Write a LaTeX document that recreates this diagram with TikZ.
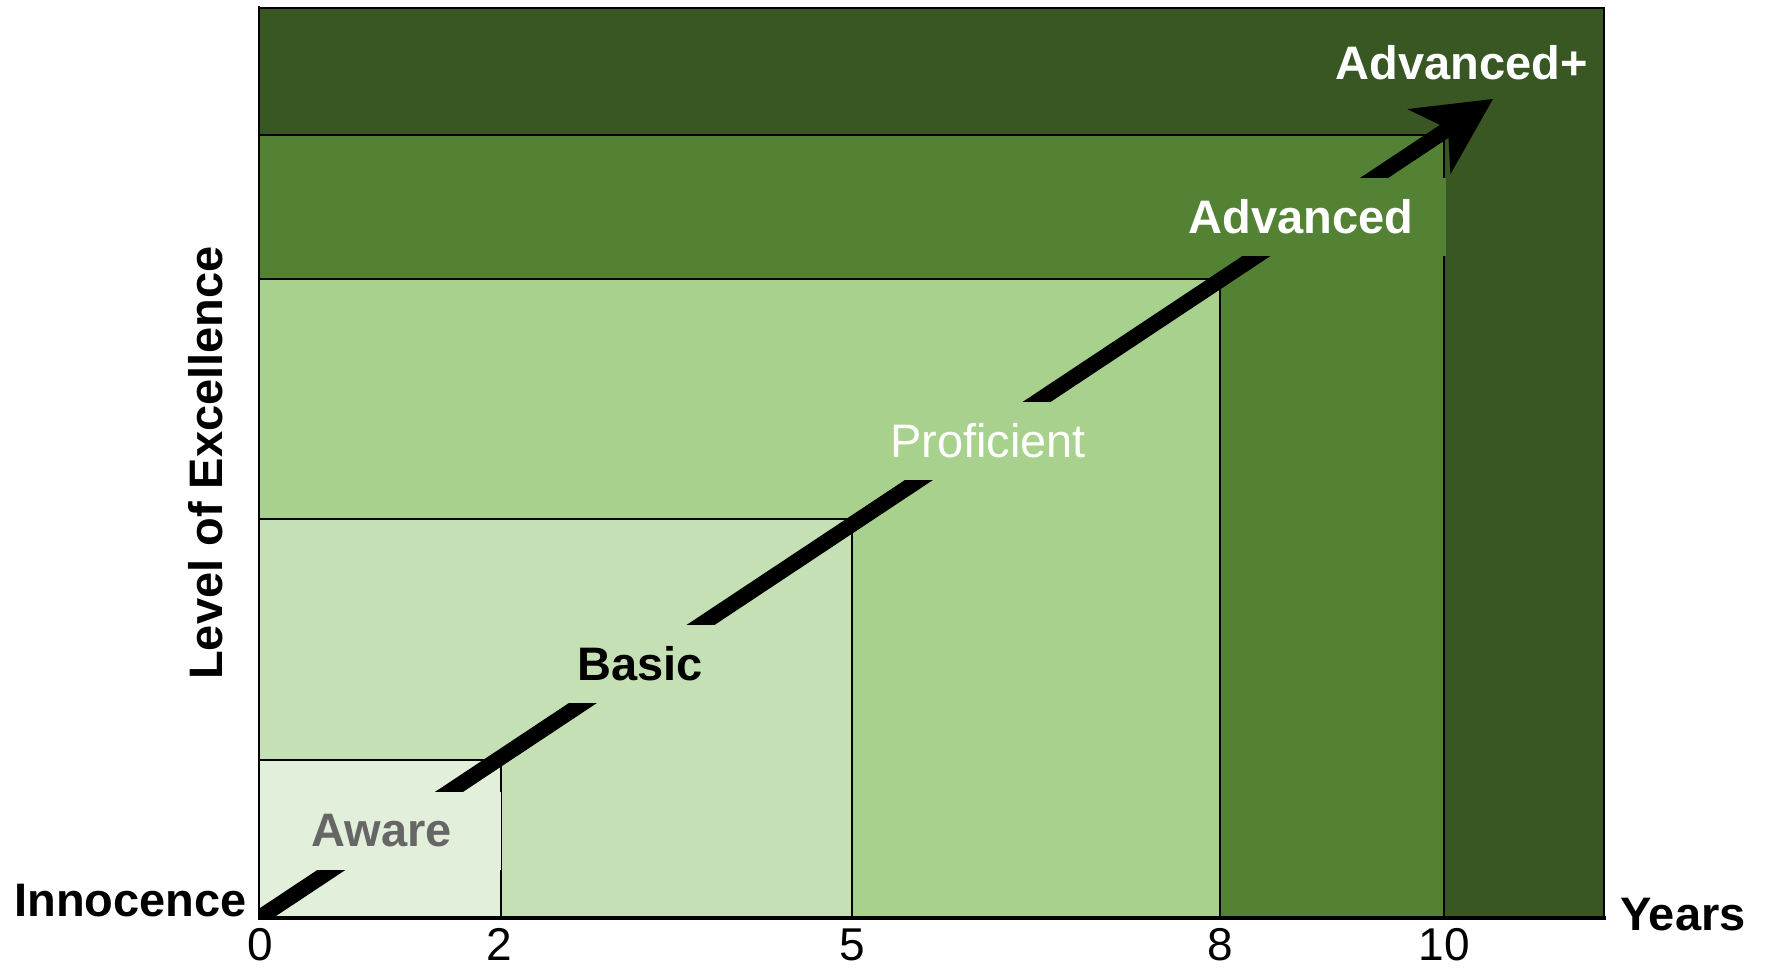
\documentclass[tikz,border=0pt]{standalone}
\usepackage{fontspec}
\setmainfont{Liberation Sans}
\usetikzlibrary{arrows.meta}
\definecolor{awareC}{HTML}{E2EFDA}
\definecolor{basicC}{HTML}{C5E0B4}
\definecolor{profC}{HTML}{A9D18E}
\definecolor{advC}{HTML}{548235}
\definecolor{advpC}{HTML}{385723}
\definecolor{awareTxt}{HTML}{666666}
\begin{document}
\begin{tikzpicture}[x=1pt,y=-1pt,
  band/.style={draw=black,line width=1.5pt},
  lbl/.style={inner sep=0pt,minimum height=78pt,
    font=\fontsize{47}{56}\selectfont\bfseries},
  plainlbl/.style={inner sep=0pt,minimum height=78pt,
    font=\fontsize{47}{56}\selectfont},
  ticklbl/.style={inner sep=0pt,anchor=base,font=\fontsize{46}{54}\selectfont},
  axislbl/.style={inner sep=0pt,font=\fontsize{47}{56}\selectfont\bfseries}]
\useasboundingbox (0,0) rectangle (1765,970);

% nested level bands, largest first
\draw[band,fill=advpC]  (259,8)   rectangle (1604,918);
\draw[band,fill=advC]   (259,135) rectangle (1444,918);
\draw[band,fill=profC]  (259,279) rectangle (1220,918);
\draw[band,fill=basicC] (259,519) rectangle (852,918);
\draw[band,fill=awareC] (259,760) rectangle (501,918);

% frame and axes
\draw[line width=2pt] (259,8) -- (1604,8) -- (1604,918);
\draw[line width=2.5pt] (259,6) -- (259,919);
\draw[line width=3.5pt] (257.75,918) -- (1605.5,918);

% progression arrow
\coordinate (origin) at (259,918);
\coordinate (tip) at (1493,99);
\begin{scope}
  \clip (259,8) rectangle (1604,918);
  \draw[line width=15.5pt,
    -{Stealth[length=77pt,width=78pt,inset=23pt,line width=0pt]}]
    (origin) -- (tip);
\end{scope}

% level labels (their fill breaks the arrow)
\node[lbl,fill=awareC,text=awareTxt,minimum width=238pt] (aware) at (382,831) {Aware};
\node[lbl,fill=basicC,text=black,minimum width=200pt] (basic) at (640,663.5) {Basic};
\node[plainlbl,fill=profC,text=white,minimum width=280pt] (proficient) at (988,441) {Proficient};
\node[lbl,fill=advC,text=white,minimum width=290pt] (advanced) at (1301,217) {Advanced};
\node[lbl,text=white] (advplus) at (1462,63) {Advanced+};

% axis titles
\node[axislbl,anchor=base east] (innocence) at (247,916) {Innocence};
\node[axislbl,anchor=base west] (years) at (1620,930) {Years};
\node[axislbl,rotate=90,anchor=base] (level) at (222,463) {Level of Excellence};

% year ticks
\node[ticklbl] (y0)  at (260,960)  {0};
\node[ticklbl] (y2)  at (499,960)  {2};
\node[ticklbl] (y5)  at (852,960)  {5};
\node[ticklbl] (y8)  at (1220,960) {8};
\node[ticklbl] (y10) at (1444,960) {10};
\end{tikzpicture}
\end{document}
